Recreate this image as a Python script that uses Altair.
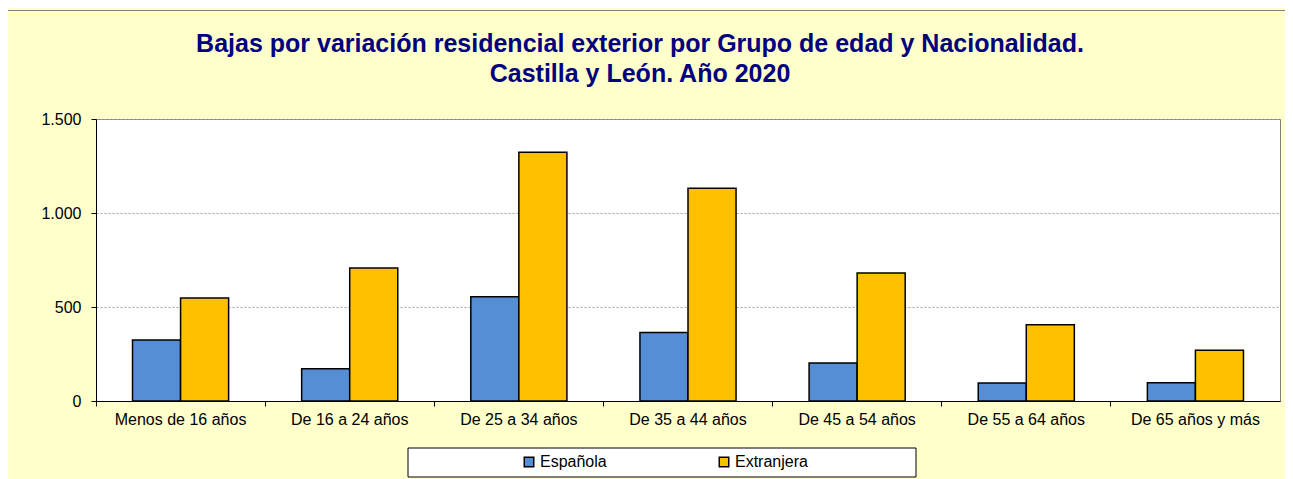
import altair as alt
import pandas as pd

categories = ["Menos de 16 años", "De 16 a 24 años", "De 25 a 34 años", "De 35 a 44 años",
              "De 45 a 54 años", "De 55 a 64 años", "De 65 años y más"]
series = ["Española", "Extranjera"]
espanola = [324, 172, 555, 365, 202, 96, 97]
extranjera = [548, 707, 1323, 1131, 681, 406, 270]
colors = ["#558ED5", "#FFC000"]
y_ticks = [0, 500, 1000, 1500]

rows = []
for c, a, b in zip(categories, espanola, extranjera):
    rows.append({"grupo": c, "nac": series[0], "valor": a})
    rows.append({"grupo": c, "nac": series[1], "valor": b})
df = pd.DataFrame(rows)

FONT = "Liberation Sans"
W, H = 1184, 282

one = pd.DataFrame({"k": [0]})

frame_left = alt.Chart(one).mark_rule(color="#808080", strokeWidth=1).encode(
    x=alt.value(-88.5), y=alt.value(-109), y2=alt.value(400)
)
frame_top = alt.Chart(one).mark_rule(color="#808080", strokeWidth=1).encode(
    x=alt.value(-89), x2=alt.value(1250), y=alt.value(-108.5)
)

legend_box = alt.Chart(one).mark_rect(fill="white", stroke="black", strokeWidth=1).encode(
    x=alt.value(312), x2=alt.value(820), y=alt.value(329), y2=alt.value(358)
)

bars = alt.Chart(df).mark_bar(stroke="black", strokeWidth=1.5).encode(
    x=alt.X("grupo:N", sort=categories, title=None,
            scale=alt.Scale(paddingInner=0, paddingOuter=0),
            axis=alt.Axis(labelAngle=0, bandPosition=0, tickSize=5, tickColor="black",
                          domainColor="black", labelFontSize=16, labelFont=FONT,
                          labelColor="black", labelPadding=5, grid=False)),
    xOffset=alt.XOffset("nac:N", sort=series,
                        scale=alt.Scale(paddingInner=0, paddingOuter=0.76)),
    y=alt.Y("valor:Q", title=None,
            scale=alt.Scale(domain=[0, 1500], nice=False),
            axis=alt.Axis(values=y_ticks, tickSize=5, tickColor="black", domainColor="black",
                          labelFontSize=16, labelFont=FONT, labelColor="black", labelPadding=10,
                          labelExpr="replace(format(datum.value, ','), ',', '.')",
                          grid=True, gridColor="#a0a0a0", gridDash=[2, 2], gridWidth=1)),
    color=alt.Color("nac:N", sort=series, scale=alt.Scale(domain=series, range=colors),
                    legend=alt.Legend(title=None, orient="none", direction="horizontal",
                                      legendX=425, legendY=335, symbolType="square",
                                      symbolSize=90, symbolStrokeColor="black",
                                      symbolStrokeWidth=1.5, labelFontSize=16, labelFont=FONT,
                                      labelColor="black", labelOffset=3, columnPadding=109,
                                      padding=0)),
)

chart = alt.layer(frame_left, frame_top, legend_box, bars).properties(
    width=W, height=H,
    background="#FFFFCC",
    autosize=alt.AutoSizeParams(type="none"),
    padding={"left": 88, "top": 111, "right": 5, "bottom": 78},
    title=alt.Title(["Bajas por variación residencial exterior por Grupo de edad y Nacionalidad.",
                     "Castilla y León. Año 2020"],
                    anchor="middle", frame="group", dx=-48, dy=101, offset=24,
                    font=FONT, fontSize=25, fontWeight="bold", color="#000080", lineHeight=30),
).configure_view(fill="white", stroke="#808080", strokeWidth=1)

chart.save("out.html", embed_options={"renderer": "svg", "actions": False})
